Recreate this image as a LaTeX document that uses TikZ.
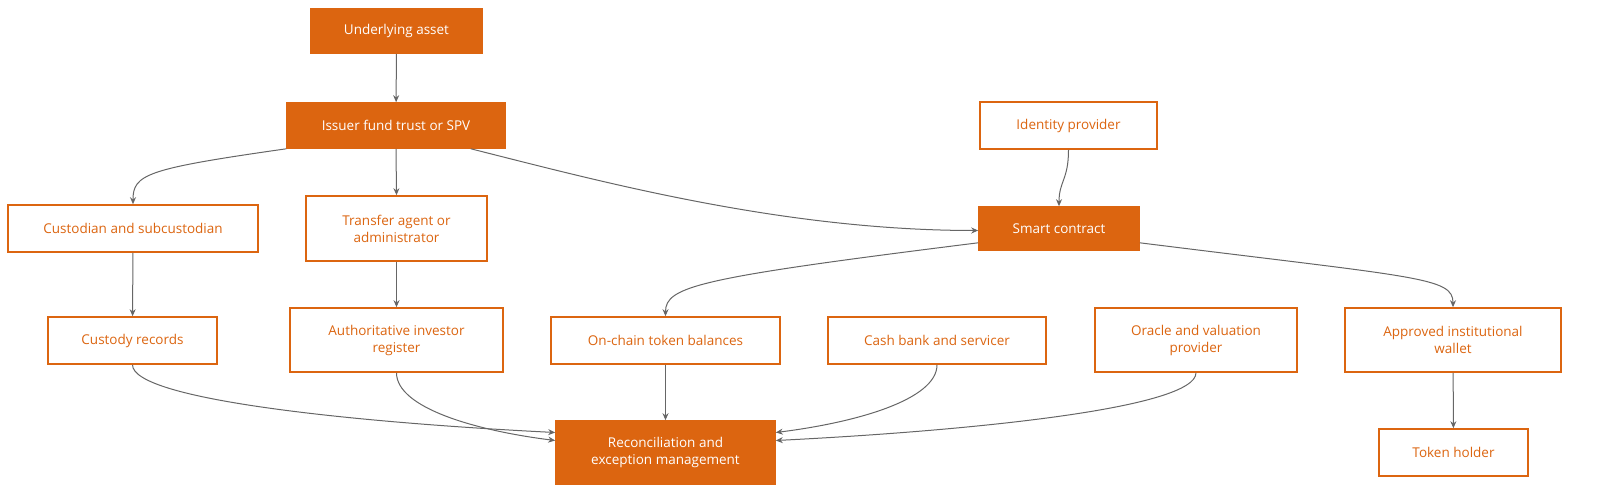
\documentclass[tikz,border=0pt]{standalone}
\usepackage{fontspec}
\setmainfont{Open Sans}
\usetikzlibrary{arrows.meta}
\definecolor{org}{HTML}{DC6510}
\definecolor{edge}{HTML}{666666}
\begin{document}
\begin{tikzpicture}[x=1pt,y=-1pt,
 nbase/.style={draw=org,line width=1.6pt,align=center,font=\fontsize{13.5}{17}\selectfont,inner sep=0pt},
 nfill/.style={nbase,fill=org,text=white},
 nout/.style={nbase,fill=white,text=org},
 arr/.style={draw=edge,line width=1pt,-{Stealth[length=7pt,width=6pt]}}]
\useasboundingbox (0,0) rectangle (1600,502);
\node[nfill,minimum width=171pt,minimum height=44pt] (ua) at (396.5,31) {Underlying asset};
\node[nfill,minimum width=218pt,minimum height=45pt] (is) at (396,125.5) {Issuer fund trust or SPV};
\node[nout,minimum width=177pt,minimum height=47pt] (id) at (1068.5,125.5) {Identity provider};
\node[nout,minimum width=250pt,minimum height=47pt] (cu) at (133,228.5) {Custodian and subcustodian};
\node[nout,minimum width=181pt,minimum height=65pt] (ta) at (396.5,228.5) {Transfer agent or\\administrator};
\node[nfill,minimum width=160pt,minimum height=43pt] (sc) at (1059,228.5) {Smart contract};
\node[nout,minimum width=169pt,minimum height=47pt] (cr) at (132.5,340.5) {Custody records};
\node[nout,minimum width=213pt,minimum height=64pt] (ai) at (396.5,340) {Authoritative investor\\register};
\node[nout,minimum width=229pt,minimum height=47pt] (oc) at (665.5,340.5) {On-chain token balances};
\node[nout,minimum width=218pt,minimum height=47pt] (cb) at (937,340.5) {Cash bank and servicer};
\node[nout,minimum width=202pt,minimum height=64pt] (or) at (1196,340) {Oracle and valuation\\provider};
\node[nout,minimum width=216pt,minimum height=64pt] (ap) at (1453,340) {Approved institutional\\wallet};
\node[nfill,minimum width=219pt,minimum height=63pt] (re) at (665.5,452.5) {Reconciliation and\\exception management};
\node[nout,minimum width=149pt,minimum height=47pt] (th) at (1453.5,452.5) {Token holder};
\draw[arr] (ua) -- (is);
\draw[arr] (is.south) -- (ta.north);
\draw[arr] (is.south west) .. controls +(-140,20) and +(0,-30) .. (cu.north);
\draw[arr] ([xshift=-35pt]is.south east) .. controls +(120,30) and +(-200,0) .. ([yshift=-2pt]sc.west);
\draw[arr] (id.south) .. controls +(0,30) and +(0,-25) .. (sc.north);
\draw[arr] (cu) -- (cr);
\draw[arr] (ta) -- (ai);
\draw[arr] ([yshift=8pt]sc.south west) .. controls +(-280,35) and +(0,-30) .. (oc.north);
\draw[arr] ([yshift=8pt]sc.south east) .. controls +(280,35) and +(0,-30) .. (ap.north);
\draw[arr] (ap) -- (th);
\draw[arr] (oc) -- (re);
\draw[arr] (cr.south) .. controls +(0,35) and +(-200,-10) .. ([yshift=20pt]re.west);
\draw[arr] (ai.south) .. controls +(0,35) and +(-80,-10) .. ([yshift=12pt]re.west);
\draw[arr] (cb.south) .. controls +(0,35) and +(80,-10) .. ([yshift=20pt]re.east);
\draw[arr] (or.south) .. controls +(0,35) and +(200,-10) .. ([yshift=12pt]re.east);
\end{tikzpicture}
\end{document}
